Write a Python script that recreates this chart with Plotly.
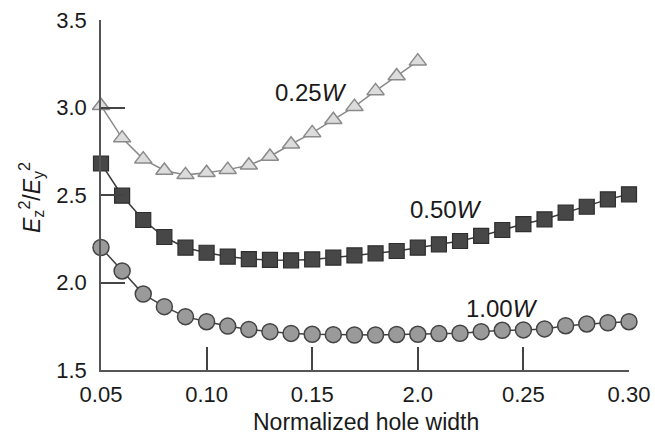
import plotly.graph_objects as go

x_tri = [0.05, 0.06, 0.07, 0.08, 0.09, 0.10, 0.11, 0.12, 0.13, 0.14, 0.15, 0.16, 0.17, 0.18, 0.19, 0.20]
y_tri = [3.01, 2.825, 2.705, 2.64, 2.615, 2.627, 2.645, 2.67, 2.72, 2.79, 2.855, 2.93, 3.005, 3.095, 3.18, 3.265]

x_sq = [0.05, 0.06, 0.07, 0.08, 0.09, 0.10, 0.11, 0.12, 0.13, 0.14, 0.15, 0.16, 0.17, 0.18,
        0.19, 0.20, 0.21, 0.22, 0.23, 0.24, 0.25, 0.26, 0.27, 0.28, 0.29, 0.30]
y_sq = [2.68, 2.496, 2.357, 2.26, 2.199, 2.17, 2.148, 2.134, 2.129, 2.127, 2.132, 2.142, 2.155, 2.167,
        2.18, 2.199, 2.218, 2.237, 2.266, 2.30, 2.334, 2.361, 2.399, 2.433, 2.475, 2.504]

x_ci = x_sq
y_ci = [2.20, 2.066, 1.934, 1.862, 1.805, 1.776, 1.751, 1.732, 1.719, 1.709, 1.704, 1.702, 1.70, 1.70,
        1.703, 1.704, 1.708, 1.71, 1.719, 1.727, 1.729, 1.735, 1.753, 1.763, 1.77, 1.776]

x_ticks = [0.05, 0.10, 0.15, 0.20, 0.25, 0.30]
x_ticklabels = ["0.05", "0.10", "0.15", "2.0", "0.25", "0.30"]
y_ticks = [1.5, 2.0, 2.5, 3.0, 3.5]
y_ticklabels = ["1.5", "2.0", "2.5", "3.0", "3.5"]

labels = ["0.25<i>W</i>", "0.50<i>W</i>", "1.00<i>W</i>"]
label_x = [0.1495, 0.2133, 0.2400]
label_y = [3.083, 2.42, 1.853]

x_title = "Normalized hole width"
y_title = "<i>E</i><sub>z</sub><sup>2</sup>/<i>E</i><sub>y</sub><sup>2</sup>"

FONT = "Liberation Sans, Arial, sans-serif"
TXT = "#1a1a1a"

W, H = 655, 436
L, T, R, B = 101, 20, 655 - 629, 436 - 370
PW, PH = W - L - R, H - T - B

fig = go.Figure()
fig.add_trace(go.Scatter(
    x=x_tri, y=y_tri, mode="lines+markers", cliponaxis=False,
    line=dict(color="#8a8a8a", width=1.5),
    marker=dict(symbol="triangle-up", size=15, color="#dcdcdc",
                line=dict(color="#8a8a8a", width=1.5)),
))
fig.add_trace(go.Scatter(
    x=x_sq, y=y_sq, mode="lines+markers", cliponaxis=False,
    line=dict(color="#3a3a3a", width=1.5),
    marker=dict(symbol="square", size=15, color="#474747",
                line=dict(color="#2e2e2e", width=1.2)),
))
fig.add_trace(go.Scatter(
    x=x_ci, y=y_ci, mode="lines+markers", cliponaxis=False,
    line=dict(color="#404040", width=1.5),
    marker=dict(symbol="circle", size=16, color="#9a9a9a",
                line=dict(color="#444444", width=1.5)),
))

for t, lx, ly in zip(labels, label_x, label_y):
    fig.add_annotation(x=lx, y=ly, text=t, showarrow=False,
                       xanchor="center", yanchor="middle",
                       font=dict(family=FONT, size=24, color=TXT))

# axis titles as annotations for exact placement
fig.add_annotation(xref="paper", yref="paper", x=(366 - 101) / PW, y=0,
                   yshift=-52, xanchor="center", yanchor="middle",
                   text=x_title, showarrow=False,
                   font=dict(family=FONT, size=23, color=TXT))
fig.add_annotation(xref="paper", yref="paper", x=0, y=(370 - 198) / PH,
                   xshift=-70, xanchor="center", yanchor="middle", textangle=-90,
                   text=y_title, showarrow=False,
                   font=dict(family=FONT, size=23, color=TXT))

fig.update_layout(
    width=W, height=H,
    margin=dict(l=L, r=R, t=T, b=B, autoexpand=False),
    paper_bgcolor="white", plot_bgcolor="white",
    showlegend=False,
    font=dict(family=FONT, size=22, color=TXT),
)
fig.update_xaxes(
    range=[0.05, 0.30], tickvals=x_ticks, ticktext=x_ticklabels,
    ticks="inside", ticklen=23, tickwidth=1.5, tickcolor="#444",
    ticklabelstandoff=4, ticklabeloverflow="allow",
    showline=True, linecolor="#555", linewidth=1.5,
    showgrid=False, zeroline=False, automargin=False,
)
fig.update_yaxes(
    range=[1.5, 3.5], tickvals=y_ticks, ticktext=y_ticklabels,
    ticks="inside", ticklen=24, tickwidth=1.5, tickcolor="#444",
    ticklabelstandoff=8, ticklabeloverflow="allow",
    showline=True, linecolor="#555", linewidth=1.5,
    showgrid=False, zeroline=False, automargin=False,
)

fig.write_html(
    "out.html",
    config={"displayModeBar": False},
    post_script="document.body.style.margin='0';document.body.style.overflow='hidden';",
)
